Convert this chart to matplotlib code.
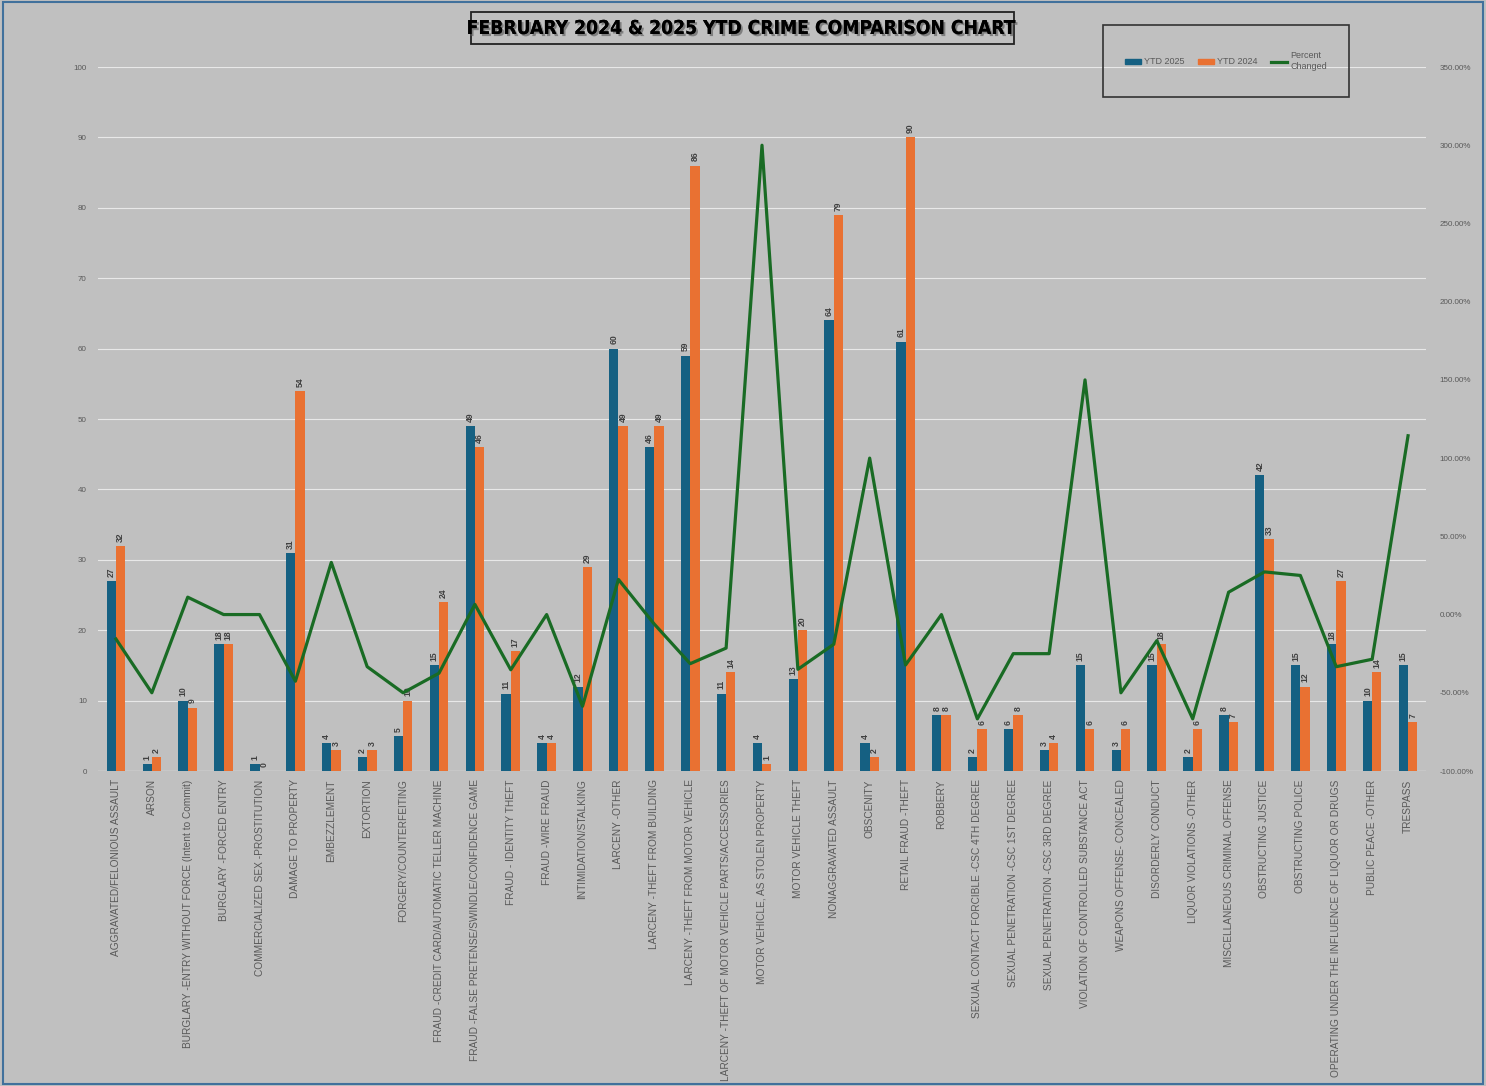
import matplotlib
matplotlib.use("Agg")
import matplotlib.pyplot as plt
import matplotlib.patheffects as pe
from matplotlib.patches import Rectangle, Patch
from matplotlib.lines import Line2D
from matplotlib.ticker import FuncFormatter
import numpy as np

categories = [
    "AGGRAVATED/FELONIOUS ASSAULT", "ARSON",
    "BURGLARY -ENTRY WITHOUT FORCE (Intent to Commit)", "BURGLARY -FORCED ENTRY",
    "COMMERCIALIZED SEX -PROSTITUTION", "DAMAGE TO PROPERTY", "EMBEZZLEMENT",
    "EXTORTION", "FORGERY/COUNTERFEITING",
    "FRAUD -CREDIT CARD/AUTOMATIC TELLER MACHINE",
    "FRAUD -FALSE PRETENSE/SWINDLE/CONFIDENCE GAME", "FRAUD - IDENTITY THEFT",
    "FRAUD -WIRE FRAUD", "INTIMIDATION/STALKING", "LARCENY -OTHER",
    "LARCENY -THEFT FROM BUILDING", "LARCENY -THEFT FROM MOTOR VEHICLE",
    "LARCENY -THEFT OF MOTOR VEHICLE PARTS/ACCESSORIES",
    "MOTOR VEHICLE, AS STOLEN PROPERTY", "MOTOR VEHICLE THEFT",
    "NONAGGRAVATED ASSAULT", "OBSCENITY", "RETAIL FRAUD -THEFT", "ROBBERY",
    "SEXUAL CONTACT FORCIBLE -CSC 4TH DEGREE", "SEXUAL PENETRATION -CSC 1ST DEGREE",
    "SEXUAL PENETRATION -CSC 3RD DEGREE", "VIOLATION OF CONTROLLED SUBSTANCE ACT",
    "WEAPONS OFFENSE- CONCEALED", "DISORDERLY CONDUCT", "LIQUOR VIOLATIONS -OTHER",
    "MISCELLANEOUS CRIMINAL OFFENSE", "OBSTRUCTING JUSTICE", "OBSTRUCTING POLICE",
    "OPERATING UNDER THE INFLUENCE OF LIQUOR OR DRUGS", "PUBLIC PEACE -OTHER",
    "TRESPASS",
]
ytd_2025 = [27, 1, 10, 18, 1, 31, 4, 2, 5, 15, 49, 11, 4, 12, 60, 46, 59, 11, 4, 13,
            64, 4, 61, 8, 2, 6, 3, 15, 3, 15, 2, 8, 42, 15, 18, 10, 15]
ytd_2024 = [32, 2, 9, 18, 0, 54, 3, 3, 10, 24, 46, 17, 4, 29, 49, 49, 86, 14, 1, 20,
            79, 2, 90, 8, 6, 8, 4, 6, 6, 18, 6, 7, 33, 12, 27, 14, 7]
pct_changed = [-15.63, -50.00, 11.11, 0.00, 0.00, -42.59, 33.33, -33.33, -50.00,
               -37.50, 6.52, -35.29, 0.00, -58.62, 22.45, -6.12, -31.40, -21.43,
               300.00, -35.00, -18.99, 100.00, -32.22, 0.00, -66.67, -25.00, -25.00,
               150.00, -50.00, -16.67, -66.67, 14.29, 27.27, 25.00, -33.33, -28.57,
               114.29]
left_ticks = list(range(0, 101, 10))
right_ticks = list(range(-100, 351, 50))

C_BLUE = "#156082"
C_ORANGE = "#E97132"
C_GREEN = "#196B24"
BG = "#C0C0C0"
TXT = "#595959"

plt.rcParams['font.family'] = ['Liberation Sans', 'DejaVu Sans']

fig = plt.figure(figsize=(14.86, 10.86), dpi=100, facecolor=BG)
ax = fig.add_axes([98/1486, 1-771/1086, (1426-98)/1486, (771-67)/1086])
ax.set_facecolor(BG)

x = np.arange(len(categories))
w = 0.26
b1 = ax.bar(x - w/2, ytd_2025, w, color=C_BLUE, zorder=2)
b2 = ax.bar(x + w/2, ytd_2024, w, color=C_ORANGE, zorder=2)
for bars in (b1, b2):
    ax.bar_label(bars, padding=3, rotation=90, fontsize=6.2, color="#404040",
                 fontweight="bold")

ax.set_xlim(-0.5, len(categories) - 0.5)
ax.set_ylim(0, 100)
ax.set_yticks(left_ticks)
ax.grid(axis="y", color="#E8E8E8", lw=0.8, zorder=0)
ax.set_axisbelow(True)
for s in ax.spines.values():
    s.set_visible(False)
ax.axhline(0, color="#E0E0E0", lw=1, zorder=1)
ax.set_xticks(x)
ax.set_xticklabels(categories, rotation=90, fontsize=7.3, color=TXT, va="top")
ax.tick_params(axis="x", length=0, pad=6)
ax.tick_params(axis="y", length=0, labelsize=5.8, labelcolor=TXT, pad=8)

ax2 = ax.twinx()
ax2.plot(x, pct_changed, color=C_GREEN, lw=2.3, zorder=3)
ax2.set_ylim(-100, 350)
ax2.set_yticks(right_ticks)
ax2.yaxis.set_major_formatter(FuncFormatter(lambda v, p: f"{v:.2f}%"))
ax2.tick_params(axis="y", length=0, labelsize=5.8, labelcolor=TXT, pad=10)
for s in ax2.spines.values():
    s.set_visible(False)

# Title
fig.text(742/1486, 1-28.5/1086, "FEBRUARY 2024 & 2025 YTD CRIME COMPARISON CHART",
         ha="center", va="center", fontsize=13.8, fontweight="bold", color="black",
         family="DejaVu Sans", fontstretch="condensed",
         path_effects=[pe.withSimplePatchShadow(offset=(1.5, -1.5), shadow_rgbFace="#555555", alpha=0.6), pe.Normal()])
fig.add_artist(Rectangle((471/1486, 1-44/1086), (1014-471)/1486, (44-12)/1086,
                         transform=fig.transFigure, fill=False, ec="#222222", lw=1.3))

# Legend box
fig.add_artist(Rectangle((1103/1486, 1-97/1086), (1349-1103)/1486, (97-25)/1086,
                         transform=fig.transFigure, fill=False, ec="#333333", lw=1.2))
handles = [Patch(color=C_BLUE), Patch(color=C_ORANGE), Line2D([], [], color=C_GREEN, lw=2.3)]
labels = ["YTD 2025", "YTD 2024", "Percent\nChanged"]
leg = fig.legend(handles, labels, loc="center", bbox_to_anchor=(1226/1486, 1-61/1086),
                 ncol=3, frameon=False, fontsize=6.5, handlelength=1.8, handleheight=0.5,
                 columnspacing=1.5, handletextpad=0.3, labelcolor=TXT)

# Figure border
fig.add_artist(Rectangle((0.002, 0.002), 0.996, 0.996, transform=fig.transFigure,
                         fill=False, ec="#41719C", lw=1.5))

fig.savefig("out.png", dpi=100, facecolor=BG)
